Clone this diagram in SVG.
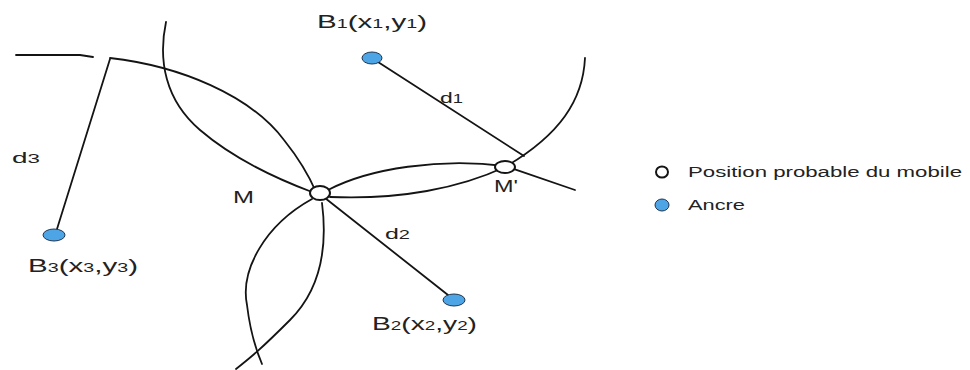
<svg xmlns="http://www.w3.org/2000/svg" width="970" height="370" viewBox="0 0 970 370">
<style>
.ln{fill:none;stroke:#141414;stroke-width:1.8;stroke-linecap:round}
.pos{fill:#fff;stroke:#141414;stroke-width:2}
.anc{fill:#4ea5e6;stroke:#1f3550;stroke-width:1}
.lbl{font-family:"Liberation Sans",Arial,sans-serif;fill:#222}
.big{font-size:18px}
.sub{font-size:12px}
.dl{font-size:15px}
.leg{font-size:14px}
</style>
<rect width="970" height="370" fill="#fff"/>
<g id="connectors">
  <path class="ln" d="M16,55 L80,55 L93,57"/>
  <path class="ln" d="M110,59 L57,229"/>
  <path class="ln" d="M110,58 C180,66 250,95 284,140 C300,160 310,178 316,192"/>
  <path class="ln" d="M166,22 C158,60 165,100 200,130 S280,180 312,192"/>
  <path class="ln" d="M312,199 C265,225 240,270 247,305 C250,330 256,350 262,364"/>
  <path class="ln" d="M322,203 C328,250 320,290 290,320 S250,358 236,369"/>
  <path class="ln" d="M328,190 C370,168 440,158 505,166 L575,190"/>
  <path class="ln" d="M585,58 C583,100 560,135 505,167 C460,188 400,200 330,197"/>
  <path class="ln" d="M378,62 L524,156"/>
  <path class="ln" d="M325,198 L448,295"/>
</g>
<g id="node-B1">
  <ellipse class="anc" cx="372" cy="58" rx="10" ry="6"/>
  <text class="lbl big" x="317" y="28" textLength="110" lengthAdjust="spacingAndGlyphs">B<tspan class="sub">1</tspan>(x<tspan class="sub">1</tspan>,y<tspan class="sub">1</tspan>)</text>
</g>
<g id="node-B2">
  <ellipse class="anc" cx="454" cy="300" rx="11" ry="6"/>
  <text class="lbl big" x="372" y="330" textLength="105" lengthAdjust="spacingAndGlyphs">B<tspan class="sub">2</tspan>(x<tspan class="sub">2</tspan>,y<tspan class="sub">2</tspan>)</text>
</g>
<g id="node-B3">
  <ellipse class="anc" cx="54" cy="235" rx="11" ry="6"/>
  <text class="lbl big" x="28" y="272" textLength="110" lengthAdjust="spacingAndGlyphs">B<tspan class="sub">3</tspan>(x<tspan class="sub">3</tspan>,y<tspan class="sub">3</tspan>)</text>
</g>
<g id="node-M">
  <ellipse class="pos" cx="320" cy="193" rx="10" ry="7"/>
  <text class="lbl" x="233" y="203" font-size="16" textLength="21" lengthAdjust="spacingAndGlyphs">M</text>
</g>
<g id="node-Mprime">
  <ellipse class="pos" cx="505" cy="167" rx="10" ry="6"/>
  <text class="lbl" x="494" y="192" font-size="16" textLength="24" lengthAdjust="spacingAndGlyphs">M'</text>
</g>
<g id="distance-labels">
  <text class="lbl dl" x="440" y="103" textLength="23" lengthAdjust="spacingAndGlyphs">d<tspan class="sub">1</tspan></text>
  <text class="lbl dl" x="385" y="239" textLength="25" lengthAdjust="spacingAndGlyphs">d<tspan class="sub">2</tspan></text>
  <text class="lbl dl" x="12" y="163" textLength="28" lengthAdjust="spacingAndGlyphs">d<tspan class="sub">3</tspan></text>
</g>
<g id="legend">
  <ellipse class="pos" cx="662" cy="172" rx="6" ry="5.5"/>
  <text class="lbl leg" x="688" y="177" textLength="274" lengthAdjust="spacingAndGlyphs">Position probable du mobile</text>
  <ellipse class="anc" cx="662" cy="205" rx="7" ry="6"/>
  <text class="lbl leg" x="688" y="210" textLength="57" lengthAdjust="spacingAndGlyphs">Ancre</text>
</g>
</svg>
